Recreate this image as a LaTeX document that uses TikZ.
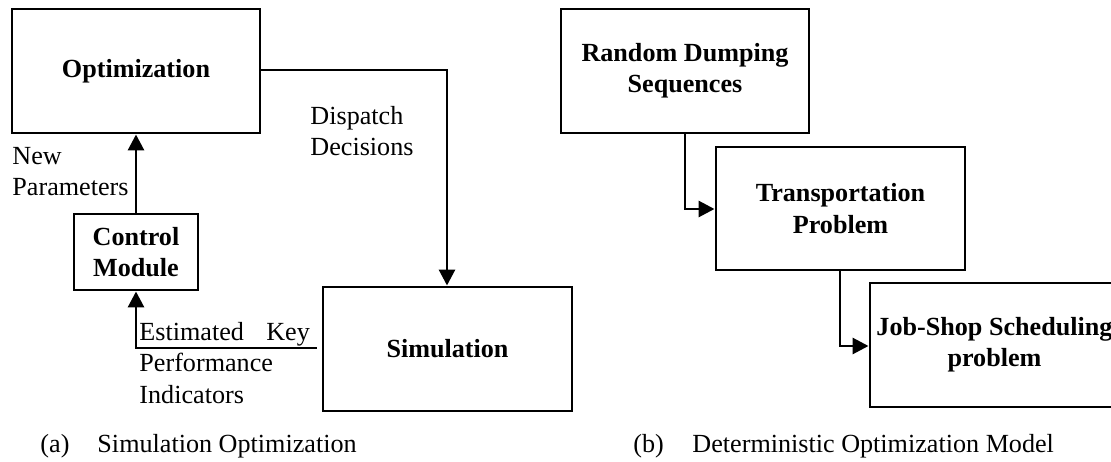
\documentclass[tikz,border=0pt]{standalone}
\usepackage{fontspec}
\setmainfont{Liberation Serif}
\usetikzlibrary{arrows.meta}
\begin{document}
\begin{tikzpicture}[x=0.44pt,y=-0.44pt,
  every node/.style={font=\fontsize{11.5}{14}\selectfont, inner sep=0pt},
  blk/.style={draw, line width=1.3pt, align=center, font=\fontsize{11.5}{13.8}\selectfont\bfseries},
  conn/.style={line width=1.3pt, -{Triangle[length=7pt,width=7pt]}},
  lbl/.style={align=left, anchor=west}]
\useasboundingbox (0,0) rectangle (1111,462);
\begin{scope}
\clip (0,0) rectangle (1111,462);
% (a)
\node[blk, minimum width=248*0.44pt, minimum height=124*0.44pt] (opt) at (136,71) {Optimization};
\node[blk, minimum width=124*0.44pt, minimum height=76*0.44pt] (ctl) at (136,252) {Control\\Module};
\node[blk, minimum width=249*0.44pt, minimum height=124*0.44pt] (sim) at (447.5,349) {Simulation};
\coordinate (c1) at (447,70);
\coordinate (c2) at (136,348);
\draw[conn] (opt.east |- c1) -- (c1) -- (sim.north -| c1);
\draw[conn] (ctl.north) -- (opt.south);
\draw[conn, shorten <=2pt] (sim.west |- c2) -- (c2) -- (ctl.south);
\node[lbl] (np) at (12,171.5) {New\\Parameters};
\node[lbl] (dd) at (310,131) {Dispatch\\Decisions};
\node[lbl] (kpi) at (139,363) {\makebox[75pt][l]{Estimated\hfill Key}\\Performance\\Indicators};
% (b)
\node[blk, minimum width=248*0.44pt, minimum height=124*0.44pt] (rd) at (685,71) {Random Dumping\\Sequences};
\node[blk, minimum width=249*0.44pt, minimum height=123*0.44pt] (tp) at (840.5,208.5) {Transportation\\Problem};
\node[blk, minimum width=249*0.44pt, minimum height=124*0.44pt] (js) at (994.5,345) {Job-Shop Scheduling\\problem};
\coordinate (d1) at (685,209);
\coordinate (d2) at (840,346);
\draw[conn] (rd.south -| d1) -- (d1) -- (tp.west |- d1);
\draw[conn] (tp.south -| d2) -- (d2) -- (js.west |- d2);
% captions
\node[anchor=west] (ca) at (40,446) {(a)};
\node[anchor=west] (cat) at (97,446) {Simulation Optimization};
\node[anchor=west] (cb) at (633,446) {(b)};
\node[anchor=west] (cbt) at (692,446) {Deterministic Optimization Model};
\end{scope}
\end{tikzpicture}
\end{document}
